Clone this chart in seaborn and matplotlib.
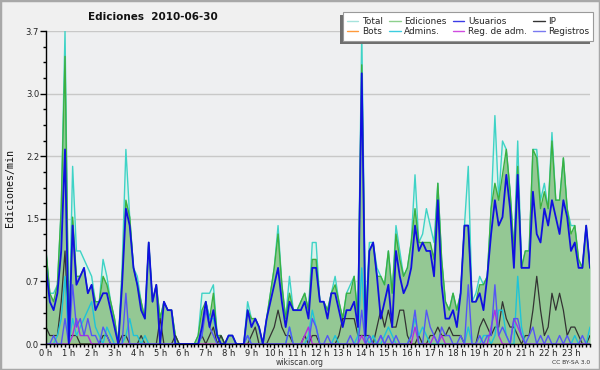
#Add libraries
import numpy as np
import pandas as pd
import matplotlib
matplotlib.use("Agg")
import matplotlib.pyplot as plt
import seaborn as sns
from matplotlib.lines import Line2D
from matplotlib.patches import Rectangle

#Style (font list set after seaborn)
sns.set_style("white")
plt.rcParams['font.family'] = ['DejaVu Sans']

#Values per 10 minutes (edits/min), 144 steps for the day
total = [
    1.1, 0.6, 0.6, 0.7, 1.6, 3.7, 0.1, 2.1, 1.1, 1.1, 1.0, 0.9,
    0.8, 0.5, 0.5, 1.0, 0.8, 0.5, 0.3, 0.0, 0.9, 2.3, 1.5, 0.9,
    0.8, 0.5, 0.3, 1.2, 0.5, 0.7, 0.3, 0.5, 0.4, 0.4, 0.1, 0.0,
    0.0, 0.0, 0.0, 0.0, 0.1, 0.6, 0.6, 0.6, 0.7, 0.1, 0.1, 0.0,
    0.1, 0.1, 0.0, 0.0, 0.0, 0.5, 0.3, 0.3, 0.2, 0.0, 0.3, 0.6,
    0.9, 1.4, 0.7, 0.3, 0.8, 0.4, 0.4, 0.5, 0.6, 0.4, 1.2, 1.2,
    0.5, 0.5, 0.4, 0.6, 0.8, 0.5, 0.3, 0.6, 0.7, 0.8, 0.3, 3.7,
    0.3, 1.2, 1.2, 0.9, 0.8, 0.7, 1.1, 0.6, 1.4, 1.1, 0.8, 0.9,
    1.2, 2.0, 1.2, 1.3, 1.6, 1.4, 1.2, 1.9, 1.0, 0.5, 0.4, 0.6,
    0.4, 0.6, 1.4, 2.1, 0.5, 0.6, 0.8, 0.7, 0.8, 1.6, 2.7, 1.7,
    2.4, 2.3, 1.8, 1.1, 2.4, 0.9, 1.1, 1.1, 2.3, 2.3, 1.7, 1.9,
    1.6, 2.5, 1.7, 1.7, 2.2, 1.6, 1.4, 1.4, 1.0, 0.9, 1.4, 0.9]

ediciones = [
    1.1, 0.6, 0.5, 0.7, 1.6, 3.4, 0.1, 1.5, 0.8, 0.8, 0.9, 0.6,
    0.7, 0.5, 0.5, 0.8, 0.7, 0.5, 0.3, 0.0, 0.8, 1.7, 1.5, 0.9,
    0.7, 0.5, 0.3, 1.2, 0.5, 0.7, 0.3, 0.5, 0.4, 0.4, 0.1, 0.0,
    0.0, 0.0, 0.0, 0.0, 0.1, 0.4, 0.5, 0.3, 0.6, 0.1, 0.1, 0.0,
    0.1, 0.1, 0.0, 0.0, 0.0, 0.4, 0.3, 0.3, 0.2, 0.0, 0.3, 0.6,
    0.9, 1.3, 0.7, 0.3, 0.6, 0.4, 0.4, 0.5, 0.6, 0.4, 1.0, 1.0,
    0.5, 0.5, 0.4, 0.6, 0.7, 0.5, 0.3, 0.6, 0.6, 0.8, 0.3, 3.3,
    0.2, 1.1, 1.2, 0.8, 0.8, 0.7, 1.1, 0.6, 1.3, 1.0, 0.8, 0.9,
    1.2, 1.6, 1.2, 1.2, 1.2, 1.2, 1.0, 1.9, 1.0, 0.5, 0.4, 0.6,
    0.4, 0.6, 1.4, 1.4, 0.5, 0.5, 0.7, 0.7, 0.8, 1.6, 1.9, 1.7,
    2.0, 2.3, 1.8, 1.1, 2.1, 0.9, 1.1, 1.1, 2.3, 2.2, 1.6, 1.8,
    1.6, 2.4, 1.7, 1.7, 2.2, 1.6, 1.3, 1.4, 1.0, 0.9, 1.4, 0.9]

usuarios = [
    0.9, 0.5, 0.4, 0.6, 1.1, 2.3, 0.0, 1.4, 0.7, 0.8, 0.9, 0.6,
    0.7, 0.4, 0.5, 0.6, 0.6, 0.4, 0.2, 0.0, 0.7, 1.6, 1.4, 0.9,
    0.7, 0.4, 0.3, 1.2, 0.5, 0.7, 0.0, 0.5, 0.4, 0.4, 0.0, 0.0,
    0.0, 0.0, 0.0, 0.0, 0.0, 0.2, 0.5, 0.2, 0.4, 0.1, 0.0, 0.0,
    0.1, 0.1, 0.0, 0.0, 0.0, 0.4, 0.2, 0.3, 0.2, 0.0, 0.3, 0.5,
    0.7, 0.9, 0.5, 0.2, 0.5, 0.4, 0.4, 0.4, 0.5, 0.3, 0.9, 0.9,
    0.5, 0.5, 0.3, 0.6, 0.6, 0.4, 0.2, 0.4, 0.4, 0.5, 0.2, 3.2,
    0.1, 1.1, 1.2, 0.8, 0.3, 0.5, 0.7, 0.2, 1.1, 0.8, 0.6, 0.7,
    0.9, 1.4, 1.1, 1.2, 1.1, 1.1, 0.8, 1.7, 0.7, 0.3, 0.3, 0.4,
    0.2, 0.6, 1.4, 1.4, 0.5, 0.5, 0.6, 0.4, 0.8, 1.3, 1.7, 1.4,
    1.5, 2.0, 1.6, 0.9, 2.0, 0.9, 0.9, 0.9, 1.8, 1.3, 1.2, 1.6,
    1.4, 1.7, 1.5, 1.3, 1.7, 1.5, 1.1, 1.2, 0.9, 0.9, 1.4, 0.9]

ip = [
    0.2, 0.1, 0.1, 0.1, 0.5, 1.1, 0.1, 0.1, 0.1, 0.0, 0.0, 0.0,
    0.0, 0.0, 0.0, 0.1, 0.1, 0.0, 0.0, 0.0, 0.1, 0.1, 0.0, 0.0,
    0.0, 0.1, 0.0, 0.0, 0.0, 0.0, 0.3, 0.0, 0.0, 0.0, 0.1, 0.0,
    0.0, 0.0, 0.0, 0.0, 0.0, 0.1, 0.0, 0.1, 0.2, 0.0, 0.1, 0.0,
    0.0, 0.0, 0.0, 0.0, 0.0, 0.0, 0.1, 0.2, 0.0, 0.0, 0.0, 0.1,
    0.2, 0.4, 0.2, 0.1, 0.1, 0.0, 0.0, 0.0, 0.1, 0.0, 0.1, 0.1,
    0.0, 0.0, 0.0, 0.0, 0.0, 0.1, 0.3, 0.3, 0.3, 0.3, 0.1, 0.1,
    0.1, 0.1, 0.0, 0.2, 0.4, 0.2, 0.4, 0.2, 0.2, 0.4, 0.4, 0.1,
    0.0, 0.0, 0.1, 0.0, 0.0, 0.1, 0.1, 0.2, 0.1, 0.1, 0.2, 0.1,
    0.1, 0.1, 0.0, 0.0, 0.0, 0.0, 0.2, 0.3, 0.2, 0.1, 0.2, 0.2,
    0.5, 0.3, 0.2, 0.2, 0.1, 0.0, 0.1, 0.1, 0.4, 0.8, 0.4, 0.1,
    0.2, 0.6, 0.4, 0.6, 0.4, 0.1, 0.2, 0.2, 0.1, 0.0, 0.0, 0.1]

bots = [0.0] * 144

admins = [
    0.0, 0.0, 0.0, 0.1, 0.3, 0.8, 0.0, 0.3, 0.1, 0.2, 0.3, 0.4,
    0.5, 0.2, 0.1, 0.0, 0.2, 0.1, 0.0, 0.0, 0.0, 0.1, 0.3, 0.1,
    0.1, 0.0, 0.1, 0.0, 0.0, 0.0, 0.0, 0.0, 0.0, 0.0, 0.0, 0.0,
    0.0, 0.0, 0.0, 0.0, 0.0, 0.1, 0.5, 0.3, 0.3, 0.1, 0.0, 0.0,
    0.0, 0.0, 0.0, 0.0, 0.0, 0.1, 0.0, 0.0, 0.0, 0.0, 0.0, 0.0,
    0.0, 0.0, 0.0, 0.0, 0.2, 0.0, 0.0, 0.0, 0.0, 0.1, 0.4, 0.2,
    0.0, 0.0, 0.0, 0.0, 0.1, 0.0, 0.0, 0.0, 0.0, 0.0, 0.1, 0.9,
    0.1, 0.0, 0.1, 0.0, 0.0, 0.1, 0.2, 0.1, 0.0, 0.0, 0.0, 0.0,
    0.1, 0.3, 0.1, 0.2, 0.1, 0.0, 0.0, 0.0, 0.0, 0.0, 0.0, 0.0,
    0.0, 0.0, 0.0, 0.2, 0.0, 0.0, 0.0, 0.1, 0.1, 0.0, 0.1, 0.4,
    0.4, 0.1, 0.0, 0.0, 0.8, 0.2, 0.0, 0.0, 0.0, 0.0, 0.0, 0.0,
    0.0, 0.0, 0.0, 0.0, 0.0, 0.0, 0.0, 0.1, 0.0, 0.0, 0.0, 0.2]

reg_adm = [
    0.0, 0.0, 0.0, 0.0, 0.0, 0.0, 0.0, 0.1, 0.3, 0.1, 0.1, 0.1,
    0.0, 0.0, 0.0, 0.0, 0.0, 0.0, 0.0, 0.0, 0.0, 0.0, 0.0, 0.0,
    0.0, 0.0, 0.0, 0.0, 0.0, 0.0, 0.0, 0.0, 0.0, 0.0, 0.0, 0.0,
    0.0, 0.0, 0.0, 0.0, 0.0, 0.0, 0.0, 0.0, 0.0, 0.0, 0.0, 0.0,
    0.0, 0.0, 0.0, 0.0, 0.0, 0.0, 0.0, 0.0, 0.0, 0.0, 0.0, 0.0,
    0.0, 0.0, 0.0, 0.0, 0.0, 0.0, 0.0, 0.0, 0.1, 0.2, 0.0, 0.0,
    0.0, 0.0, 0.0, 0.0, 0.0, 0.0, 0.0, 0.0, 0.0, 0.0, 0.0, 0.1,
    0.0, 0.0, 0.0, 0.0, 0.1, 0.0, 0.0, 0.0, 0.0, 0.0, 0.0, 0.0,
    0.0, 0.2, 0.0, 0.0, 0.0, 0.0, 0.1, 0.0, 0.1, 0.0, 0.0, 0.0,
    0.0, 0.0, 0.0, 0.0, 0.0, 0.0, 0.0, 0.0, 0.0, 0.2, 0.4, 0.1,
    0.0, 0.0, 0.0, 0.3, 0.2, 0.1, 0.0, 0.0, 0.0, 0.0, 0.0, 0.0,
    0.0, 0.0, 0.0, 0.0, 0.0, 0.0, 0.0, 0.0, 0.0, 0.0, 0.0, 0.0]

registros = [
    0.0, 0.0, 0.1, 0.0, 0.0, 0.3, 0.0, 0.7, 0.2, 0.3, 0.1, 0.3,
    0.1, 0.1, 0.0, 0.2, 0.1, 0.0, 0.0, 0.0, 0.0, 0.6, 0.0, 0.0,
    0.0, 0.0, 0.0, 0.0, 0.0, 0.0, 0.0, 0.0, 0.0, 0.0, 0.0, 0.0,
    0.0, 0.0, 0.0, 0.0, 0.0, 0.1, 0.4, 0.2, 0.1, 0.0, 0.0, 0.0,
    0.0, 0.0, 0.0, 0.0, 0.0, 0.1, 0.0, 0.0, 0.0, 0.0, 0.0, 0.0,
    0.0, 0.0, 0.0, 0.0, 0.2, 0.0, 0.0, 0.0, 0.0, 0.0, 0.3, 0.2,
    0.0, 0.0, 0.1, 0.0, 0.0, 0.0, 0.0, 0.0, 0.1, 0.0, 0.0, 0.4,
    0.0, 0.1, 0.0, 0.0, 0.1, 0.0, 0.1, 0.0, 0.1, 0.0, 0.0, 0.0,
    0.1, 0.4, 0.0, 0.0, 0.4, 0.2, 0.1, 0.0, 0.2, 0.1, 0.1, 0.0,
    0.0, 0.1, 0.0, 0.7, 0.0, 0.0, 0.1, 0.0, 0.1, 0.1, 0.7, 0.1,
    0.2, 0.1, 0.0, 0.3, 0.3, 0.1, 0.0, 0.1, 0.2, 0.0, 0.1, 0.0,
    0.1, 0.0, 0.0, 0.1, 0.0, 0.1, 0.0, 0.0, 0.0, 0.1, 0.0, 0.0]

#Axis labels
hour_labels = ["0 h", "1 h", "2 h", "3 h", "4 h", "5 h", "6 h", "7 h",
               "8 h", "9 h", "10 h", "11 h", "12 h", "13 h", "14 h", "15 h",
               "16 h", "17 h", "18 h", "19 h", "20 h", "21 h", "22 h", "23 h"]
y_ticks = [0.0, 0.74, 1.48, 2.22, 2.96, 3.7]
y_labels = ["0.0", "0.7", "1.5", "2.2", "3.0", "3.7"]

df = pd.DataFrame({
    'Total': total, 'Ediciones': ediciones, 'Usuarios': usuarios, 'IP': ip,
    'Bots': bots, 'Admins.': admins, 'Reg. de adm.': reg_adm, 'Registros': registros,
})
df['paso'] = np.arange(len(df))

W, H = 600, 370
fig = plt.figure(figsize=(6, 3.7), dpi=100, facecolor='#F0F0F0')
ax = fig.add_axes([46 / W, 26 / H, 544 / W, 313 / H])
ax.set_facecolor('#EEEFF1')

#Filled areas
ax.fill_between(df['paso'], df['Total'], color='#DDF2EC', lw=0, zorder=1)
ax.fill_between(df['paso'], df['Ediciones'], color='#94C894', lw=0, zorder=2)

#Lines: (column, colour, width)
series = [
    ('Total', '#3ED3C6', 1.0),
    ('Ediciones', '#3CB040', 1.0),
    ('Bots', '#FF9933', 1.0),
    ('IP', '#333333', 0.9),
    ('Admins.', '#1EC4D8', 1.0),
    ('Reg. de adm.', '#B02CE0', 1.0),
    ('Registros', '#5555F5', 1.0),
    ('Usuarios', '#1010E0', 1.3),
]
for z, (col, color, lw) in enumerate(series):
    sns.lineplot(data=df, x='paso', y=col, ax=ax, color=color, lw=lw,
                 legend=False, zorder=3 + z)

ax.set_xlim(0, 143)
ax.set_ylim(0, 3.7)
ax.set_xlabel('')
ax.set_ylabel('')

#Ticks
ax.set_xticks(np.arange(0, 144, 6))
ax.set_xticklabels(hour_labels)
ax.set_xticks(np.arange(0, 144, 1), minor=True)
ax.set_yticks(y_ticks)
ax.set_yticklabels(y_labels)
ax.set_yticks(np.arange(0, 3.71, 0.185), minor=True)
ax.tick_params(axis='y', which='major', direction='out', length=4, width=1,
               colors='black', labelsize=6, pad=1, labelcolor='#222222')
ax.tick_params(axis='x', which='major', direction='out', length=3, width=1,
               colors='black', labelsize=6, pad=0.3, labelcolor='#222222')
ax.tick_params(axis='y', which='minor', direction='out', length=2.5, width=1,
               colors='black')
ax.tick_params(axis='x', which='minor', direction='out', length=2.5, width=1,
               colors='black')
ax.tick_params(axis='both', which='both', bottom=True, left=True)

#Grid and spines
ax.grid(False)
for yv in y_ticks[1:]:
    ax.axhline(yv, color='#C8C8C8', lw=1, zorder=0.5)
for side in ['top', 'right']:
    ax.spines[side].set_visible(False)
for side in ['left', 'bottom']:
    ax.spines[side].set_color('black')
    ax.spines[side].set_linewidth(1)
    ax.spines[side].set_zorder(20)

#Texts
fig.text(0.255, 0.954, 'Ediciones  2010-06-30', ha='center', va='center',
         fontsize=7.5, fontweight='bold', color='#111111')
fig.text(0.016, 0.492, 'Ediciones/min', rotation=90, ha='center', va='center',
         family='DejaVu Sans Mono', fontsize=7.2, color='#111111')
fig.text(0.5, 0.02, 'wikiscan.org', ha='center', va='center', fontsize=5.5,
         color='#333333')
fig.text(0.983, 0.02, 'CC BY-SA 3.0', ha='right', va='center', fontsize=4.3,
         color='#333333')

#Legend box with a drop shadow to the lower left (pixel positions from the top)
box_l, box_r, box_t, box_b = 343, 593, 12, 41
fig.patches.append(Rectangle(((box_l - 3) / W, 1 - (box_b + 3) / H),
                             (box_r - box_l) / W, (box_b - box_t) / H,
                             transform=fig.transFigure, facecolor='#6E6E6E',
                             edgecolor='none', zorder=8))
fig.patches.append(Rectangle((box_l / W, 1 - box_b / H),
                             (box_r - box_l) / W, (box_b - box_t) / H,
                             transform=fig.transFigure, facecolor='white',
                             edgecolor='#9A9A9A', lw=0.8, zorder=9))

legend_items = [
    ('Total', '#A6E3DC'), ('Bots', '#FF9A3C'),
    ('Ediciones', '#8DD08D'), ('Admins.', '#3CCDE0'),
    ('Usuarios', '#3C3CE6'), ('Reg. de adm.', '#D04CE0'),
    ('IP', '#333333'), ('Registros', '#7A7AF0'),
]
handles = [Line2D([0], [0], color=c, lw=1) for _, c in legend_items]
labels = [n for n, _ in legend_items]
leg = fig.legend(handles, labels, ncol=4, loc='center',
                 bbox_to_anchor=((box_l + box_r) / 2 / W, 1 - (box_t + box_b) / 2 / H),
                 fontsize=6.4, frameon=False, borderpad=0, labelspacing=0.15,
                 handlelength=1.3, handletextpad=0.4, columnspacing=0.7,
                 borderaxespad=0)
leg.set_zorder(10)

#Figure border
fig.patches.append(Rectangle((0, 0), 1, 1, transform=fig.transFigure,
                             fill=False, ec='#A8A8A8', lw=2.5))

fig.savefig('out.png', dpi=100, facecolor=fig.get_facecolor())
